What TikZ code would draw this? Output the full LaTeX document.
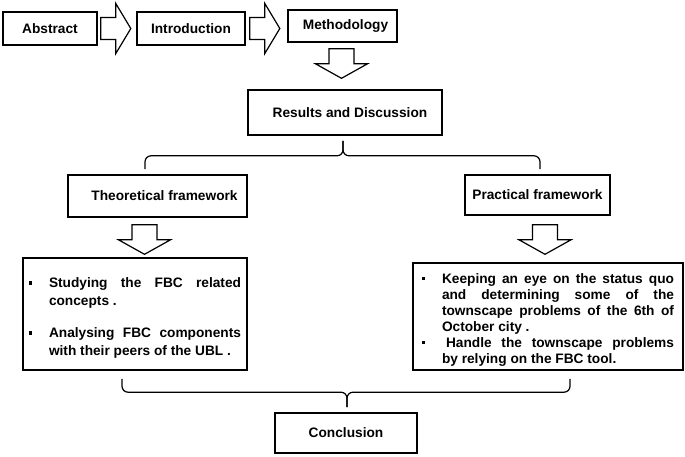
\documentclass[tikz,border=0pt]{standalone}
\usepackage{fontspec}
\setmainfont{Liberation Sans}
\usetikzlibrary{calc,positioning}

\hyphenpenalty=10000
\exhyphenpenalty=10000
\tolerance=9999

\newcommand{\bitem}[1]{\par\hangindent=20pt\hangafter=1\noindent\makebox[20pt][l]{\rule[3pt]{3.2pt}{3.2pt}}#1\par}

\tikzset{
  box/.style={draw,line width=1.6pt,inner sep=0pt,font=\fontsize{13.7}{16}\selectfont\bfseries},
  listbox/.style={draw,line width=1.6pt,inner ysep=0pt,align=justify},
  bracket/.style={line width=1.2pt,rounded corners=6pt},
  rarr/.pic={\draw[line width=1.2pt] (0,-11) -- (15,-11) -- (15,-25) -- (30,0) -- (15,25) -- (15,11) -- (0,11) -- cycle;},
  darr/.pic={\draw[line width=1.2pt] (-12.5,0) -- (-12.5,15) -- (-26,15) -- (0,29.5) -- (26,15) -- (12.5,15) -- (12.5,0) -- cycle;}
}

\begin{document}
\begin{tikzpicture}[x=1pt,y=-1pt,>=latex]
    \useasboundingbox (0,0) rectangle (685,456);

    % the first row
    \node[box,minimum width=94pt,minimum height=33pt] (abs) at (50,28.5) {Abstract};
    \node[box,minimum width=108pt,minimum height=33pt] (intro) at (191,28.5) {Introduction};
    \node[box,minimum width=109pt,minimum height=32pt] (meth) at (342.5,26) {\hspace{6pt}Methodology};

    \pic at ($(abs.east)+(3,0)$) {rarr};
    \pic at ($(intro.east)+(4,0)$) {rarr};
    \pic at ($(meth.south)+(-1,6)$) {darr};

    % results and the two frameworks
    \node[box,minimum width=194pt,minimum height=45pt] (res) at (345,112.5) {\hspace{10pt}Results and Discussion};
    \node[box,minimum width=179pt,minimum height=42pt] (theo) at (157.5,196) {\hspace{14pt}Theoretical framework};
    \node[box,minimum width=145pt,minimum height=40pt] (prac) at (537.5,195) {Practical framework};

    % the bracket under the results
    \coordinate (up-l) at ($(theo.north)+(-12.5,-5)$);
    \coordinate (up-r) at ($(prac.north)+(2.5,-5)$);
    \coordinate (up-tip) at ($(res.south)+(-2,5)$);
    \coordinate (up-mid) at ($(up-tip)+(0,15)$);
    \draw[bracket] (up-l) |- (up-mid) -- (up-tip);
    \draw[bracket] (up-tip) -- (up-mid) -| (up-r);

    \pic at ($(theo.south)+(-13,7)$) {darr};
    \pic at ($(prac.south)+(7.5,9)$) {darr};

    % the two lists
    \node[listbox,text width=212pt,inner xsep=6pt,minimum height=112pt,
          font=\fontsize{13.7}{18}\selectfont\bfseries] (theobox) at (135,314)
         {\bitem{Studying the FBC related\linebreak concepts .}\vspace{14pt}
          \bitem{Analysing FBC components\linebreak with their peers of the UBL .}\vspace{15pt}};
    \node[listbox,text width=252pt,inner xsep=9pt,minimum height=107pt,
          font=\fontsize{13.7}{16}\selectfont\bfseries] (pracbox) at (548,316.5)
         {\bitem{Keeping an eye on the status quo\linebreak and determining some of the\linebreak townscape problems of the 6th of\linebreak October city .}
          \bitem{\hspace{4pt}Handle the townscape problems\linebreak by relying on the FBC tool.}\vspace{13pt}};

    % conclusion
    \node[box,minimum width=142pt,minimum height=40pt] (concl) at (346,433) {Conclusion};

    % the bracket over the conclusion
    \coordinate (lo-l) at ($(theobox.south)+(-13,8)$);
    \coordinate (lo-r) at ($(pracbox.south)+(22,8)$);
    \coordinate (lo-tip) at ($(concl.north)+(1,-5)$);
    \coordinate (lo-mid) at ($(lo-tip)+(0,-15)$);
    \draw[bracket] (lo-l) |- (lo-mid) -- (lo-tip);
    \draw[bracket] (lo-tip) -- (lo-mid) -| (lo-r);
\end{tikzpicture}
\end{document}
